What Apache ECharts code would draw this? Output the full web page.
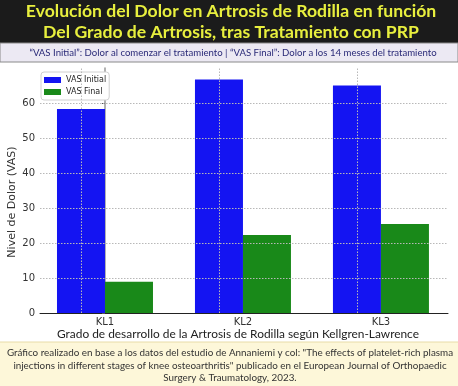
<!DOCTYPE html>
<html>
<head>
<meta charset="utf-8">
<script src="https://cdn.jsdelivr.net/npm/echarts@6/dist/echarts.min.js"></script>
<style>html,body{margin:0;padding:0;background:#fff;}#c{width:458px;height:386px;}</style>
</head>
<body>
<div id="c"></div>
<script>
const categories = ['KL1', 'KL2', 'KL3'];
const vasInitial = [58.3, 66.7, 65.0];
const vasFinal = [8.9, 22.3, 25.4];
const yTicks = [10, 20, 30, 40, 50, 60];
const titleLines = ['Evolución del Dolor en Artrosis de Rodilla en función', 'Del Grado de Artrosis, tras Tratamiento con PRP'];
const subtitle = '“VAS Initial”: Dolor al comenzar el tratamiento | “VAS Final”: Dolor a los 14 meses del tratamiento';
const xTitle = 'Grado de desarrollo de la Artrosis de Rodilla según Kellgren-Lawrence';
const yTitle = 'Nivel de Dolor (VAS)';
const footer = ['Gráfico realizado en base a los datos del estudio de Annaniemi y col: "The effects of platelet-rich plasma', 'injections in different stages of knee osteoarthritis" publicado en el European Journal of Orthopaedic', 'Surgery & Traumatology, 2023.'];

const chart = echarts.init(document.getElementById('c'), null, {renderer: 'canvas'});
const gridStyle = {color: '#b8b8b8', type: [1.5, 1.5], width: 1};
const catIdx = categories.map((c, i) => i);
const markLines = yTicks.map(v => ({yAxis: v})).concat(catIdx.map(i => ({xAxis: i})));

chart.setOption({
  backgroundColor: '#ffffff',
  animation: false,
  grid: {left: 40, right: 10, top: 68, bottom: 73},
  legend: {
    left: 41, top: 72, orient: 'vertical',
    itemWidth: 17, itemHeight: 6, itemGap: 4,
    padding: [4, 3, 4, 3],
    backgroundColor: '#ffffff', borderColor: '#d0d0d0', borderWidth: 1, borderRadius: 3,
    textStyle: {fontFamily: 'DejaVu Sans', fontSize: 8, color: '#222'},
    icon: 'rect'
  },
  xAxis: {
    type: 'value', min: -0.471, max: 2.486,
    axisLine: {lineStyle: {color: '#222', width: 1}},
    axisTick: {show: false},
    splitLine: {show: false},
    axisLabel: {fontFamily: 'DejaVu Sans', fontSize: 10, color: '#333', margin: 4,
      customValues: catIdx, formatter: v => categories[Math.round(v)] || ''}
  },
  yAxis: {
    type: 'value', min: 0, max: 70, interval: 10,
    axisLine: {show: true, lineStyle: {color: '#999', width: 1.5}},
    axisTick: {show: true, length: 3, lineStyle: {color: '#555'}},
    splitLine: {show: false},
    axisLabel: {fontFamily: 'DejaVu Sans', fontSize: 10, color: '#333', margin: 5, showMaxLabel: false}
  },
  series: [
    {name: 'VAS Initial', type: 'bar', data: vasInitial.map((v, i) => [i, v]), barWidth: 48, barGap: '0%', itemStyle: {color: '#1414f2'},
     markLine: {silent: true, symbol: 'none', label: {show: false}, lineStyle: gridStyle, data: markLines, animation: false}},
    {name: 'VAS Final', type: 'bar', data: vasFinal.map((v, i) => [i, v]), barWidth: 48, barGap: '0%', itemStyle: {color: '#198919'}}
  ],
  graphic: [
    {type: 'rect', shape: {x: 0, y: 0, width: 458, height: 43}, style: {fill: '#1b1b1b'}, z: 1},
    {type: 'text', x: 231, y: 11, style: {text: titleLines[0], fill: '#e8ef3e', font: 'bold 17.6px Lato', align: 'center', verticalAlign: 'middle'}, z: 2},
    {type: 'text', x: 231, y: 32, style: {text: titleLines[1], fill: '#e8ef3e', font: 'bold 17.6px Lato', align: 'center', verticalAlign: 'middle'}, z: 2},
    {type: 'rect', shape: {x: 0, y: 43, width: 458, height: 19}, style: {fill: '#ece9f3', stroke: '#8a8a8a', lineWidth: 1}, z: 1},
    {type: 'text', x: 233, y: 53, style: {text: subtitle, fill: '#2a2a78', font: '9.6px Lato', align: 'center', verticalAlign: 'middle'}, z: 2},
    {type: 'text', x: 12, y: 202, rotation: Math.PI / 2, style: {text: yTitle, fill: '#333', font: '11px "DejaVu Sans"', align: 'center', verticalAlign: 'middle'}, z: 2},
    {type: 'text', x: 238, y: 334, style: {text: xTitle, fill: '#222', font: '11.9px Lato', align: 'center', verticalAlign: 'middle'}, z: 2},
    {type: 'rect', shape: {x: 0, y: 342, width: 458, height: 44}, style: {fill: '#fdf7d9'}, z: 1},
    {type: 'line', shape: {x1: 0, y1: 342, x2: 458, y2: 342}, style: {stroke: '#e8dca8', lineWidth: 1}, z: 1},
    {type: 'text', x: 230, y: 353, style: {text: footer[0], fill: '#333', font: '9.85px Lato', align: 'center', verticalAlign: 'middle'}, z: 2},
    {type: 'text', x: 230, y: 366, style: {text: footer[1], fill: '#333', font: '9.85px Lato', align: 'center', verticalAlign: 'middle'}, z: 2},
    {type: 'text', x: 230, y: 378, style: {text: footer[2], fill: '#333', font: '9.85px Lato', align: 'center', verticalAlign: 'middle'}, z: 2}
  ]
});
</script>
</body>
</html>
